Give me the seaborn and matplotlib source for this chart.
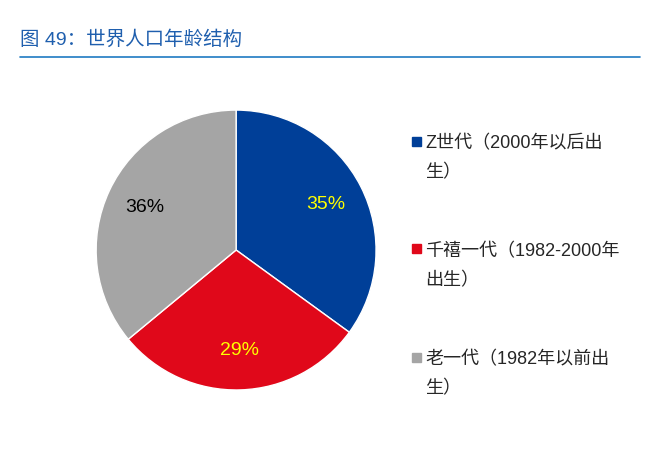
import matplotlib.pyplot as plt
import seaborn as sns

labels = ['Z世代（2000年以后出\n生）', '千禧一代（1982-2000年\n出生）', '老一代（1982年以前出\n生）']
shares = [35, 29, 36]
colors = ['#003f98', '#e0081a', '#a5a5a5']
pct_colors = ['#ffff00', '#ffff00', '#000000']

sns.set_theme(style='white')
plt.rcParams['font.family'] = ['Liberation Sans', 'Noto Sans CJK SC', 'DejaVu Sans']

fig = plt.figure(figsize=(6.54, 4.63), dpi=100)
ax = fig.add_axes([0.361 - 0.214, 0.46 - 0.3025, 0.428, 0.605])
wedges, _, autotexts = ax.pie(shares, colors=colors, startangle=90, counterclock=False,
                              autopct='%d%%', pctdistance=0.72,
                              textprops={'fontsize': 14})
for t, c in zip(autotexts, pct_colors):
    t.set_color(c)
ax.set_aspect('equal')
ax.set_xlim(-1.0, 1.0)
ax.set_ylim(-1.0, 1.0)

fig.text(20 / 654, 1 - 40 / 463, '图 49：世界人口年龄结构', color='#1f5fae', fontsize=14, va='center')
fig.add_artist(plt.Line2D([20 / 654, 640 / 654], [1 - 57 / 463] * 2, color='#1f7ac2', lw=1.2))

for i, (lab, col) in enumerate(zip(labels, colors)):
    y = 1 - (141 + i * 108) / 463
    fig.patches.append(plt.Rectangle((412 / 654, y - 4.5 / 463), 9 / 654, 9 / 463,
                                     color=col, transform=fig.transFigure, figure=fig))
    fig.text(425 / 654, y - 17 / 463, lab, fontsize=13, va='center', linespacing=1.9)

fig.savefig('out.png', dpi=100)
